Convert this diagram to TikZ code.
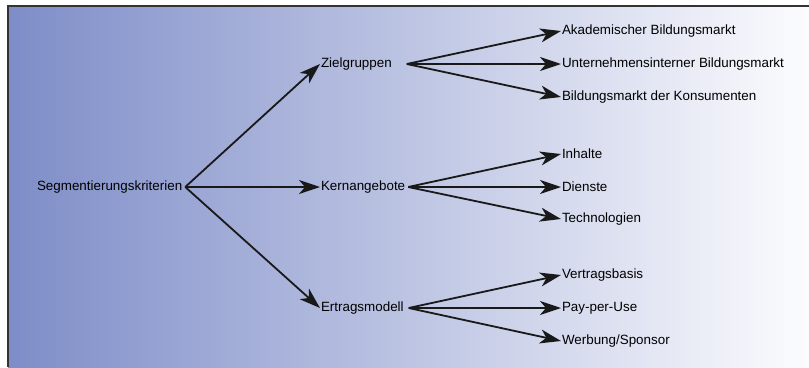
\documentclass[tikz,border=0pt]{standalone}
\usepackage{fontspec}
\setmainfont{Liberation Sans}
\usetikzlibrary{arrows.meta,positioning}
\definecolor{bgleft}{RGB}{126,141,200}
\definecolor{bgmid}{RGB}{172,180,219}
\definecolor{bgright}{RGB}{252,252,254}
\begin{document}
\begin{tikzpicture}[x=1pt, y=-1pt,
		basic/.style = {inner sep=1pt, outer sep=0pt, font=\fontsize{13.4}{15}\selectfont, anchor=west},
		root/.style  = {basic},
		level 2/.style = {basic},
		level 3/.style = {basic},
		conn/.style  = {-{Stealth[length=21pt, width=14pt, inset=6pt]}, line width=1.8pt, draw=black!90},
		>=latex]
		
		\useasboundingbox (0,0) rectangle (809,367);
		
		% Background with gradient and frame
		\shade[left color=bgleft, middle color=bgmid, right color=bgright] (8,6) rectangle (809,367);
		\draw[line width=1.5pt, black!80] (809,6) -- (8,6) -- (8,367);
		
		% Root
		\node[root] (s) at (36,187) {Segmentierungskriterien};
		
		% First level
		\node[level 2] (c1) at (320,64) {Zielgruppen};
		\node[level 2] (c2) at (320,187) {Kernangebote};
		\node[level 2] (c3) at (320,308) {Ertragsmodell};
		
		% Second level, positioned from the first level
		\node[level 3] (c11) at (561,31) {Akademischer Bildungsmarkt};
		\node[level 3] (c12) at (561,64) {Unternehmensinterner Bildungsmarkt};
		\node[level 3] (c13) at (561,97) {Bildungsmarkt der Konsumenten};
		
		\node[level 3] (c21) at (561,154) {Inhalte};
		\node[level 3] (c22) at (561,187) {Dienste};
		\node[level 3] (c23) at (561,219) {Technologien};
		
		\node[level 3] (c31) at (561,275) {Vertragsbasis};
		\node[level 3] (c32) at (561,308) {Pay-per-Use};
		\node[level 3] (c33) at (561,341) {Werbung/Sponsor};
		
		% Lines from the root to the first level
		\foreach \value in {1,2,3}
		\draw[conn] ([xshift=2pt]s.east) -- (c\value.west);
		
		% Lines from each first level node to its children
		\foreach \value in {1,2,3}
		\draw[conn] ([xshift=14pt]c1.east) -- (c1\value.west);
		
		\foreach \value in {1,2,3}
		\draw[conn] ([xshift=2pt]c2.east) -- (c2\value.west);
		
		\foreach \value in {1,2,3}
		\draw[conn] ([xshift=4pt]c3.east) -- (c3\value.west);
		
	\end{tikzpicture}
\end{document}
